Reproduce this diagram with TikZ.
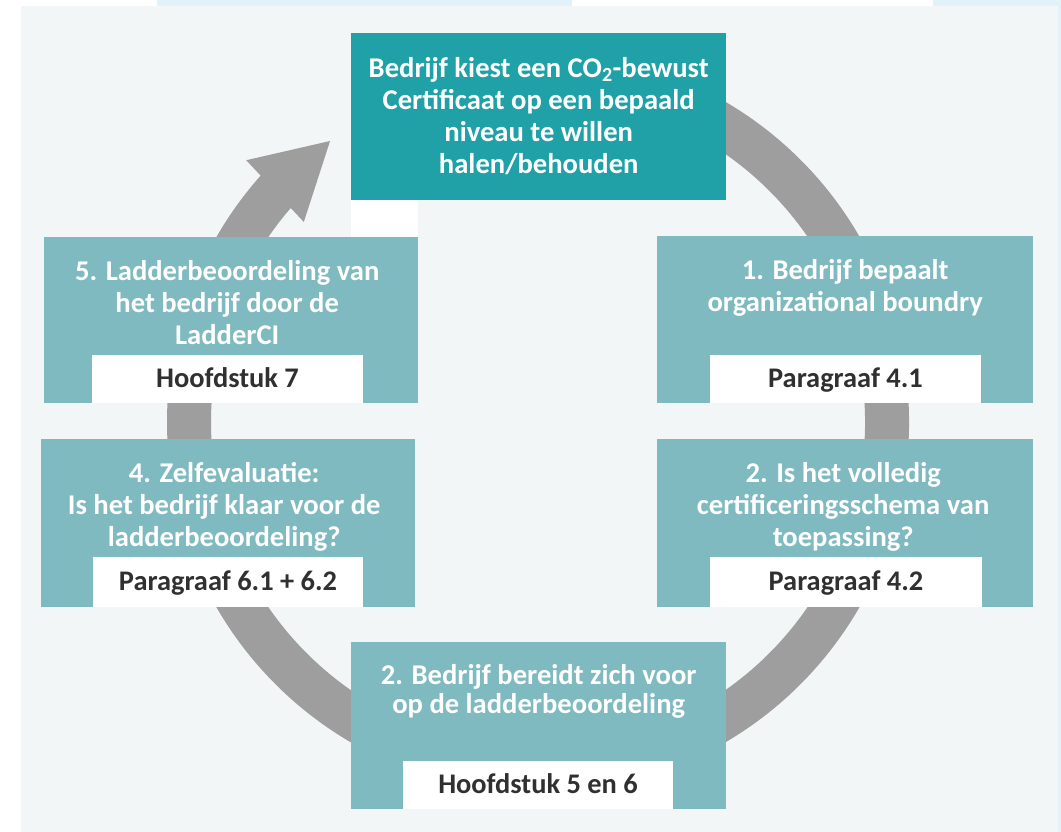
\documentclass[tikz,border=0pt]{standalone}
\usepackage{fontspec}
\setmainfont{Carlito}
\usetikzlibrary{calc}
\definecolor{darkteal}{HTML}{1FA1A7}
\definecolor{lightteal}{HTML}{7EBAC0}
\definecolor{ringgray}{HTML}{9E9E9E}
\definecolor{panelbg}{HTML}{F2F6F7}
\definecolor{stripblue}{HTML}{E1F2FA}
\definecolor{textdark}{HTML}{303030}
\begin{document}
\begin{tikzpicture}[x=1pt,y=1pt,
  boxdark/.style={draw=none, fill=darkteal, inner sep=0pt, anchor=north west,
    minimum width=375pt, minimum height=167pt},
  boxlight/.style={draw=none, fill=lightteal, inner sep=0pt, anchor=north west,
    minimum width=375pt, minimum height=167pt},
  boxtext/.style={text=white, align=center, inner sep=0pt, anchor=north,
    font=\bfseries\fontsize{28.6}{32}\selectfont},
  inbox/.style={draw=none, fill=white, text=textdark, inner sep=0pt,
    minimum height=48pt, text height=17pt, text depth=0pt,
    font=\bfseries\fontsize{28.4}{32}\selectfont},
  ring/.style={draw=ringgray, line width=44pt, line cap=butt}
]
\useasboundingbox (0,0) rectangle (1061,-832);
% background
\fill[white] (0,0) rectangle (1061,-832);
\fill[stripblue] (157,0) rectangle (572,-6);
\fill[stripblue] (933,0) rectangle (1061,-6);
\fill[stripblue] (1058,0) rectangle (1061,-832);
\fill[panelbg] (21,-6) rectangle (1058,-832);

% cycle ring with arrow head
\coordinate (ctr) at (538,-422);
\draw[ring] (ctr) ++(100:349) arc[start angle=100, end angle=-222, radius=349];
\fill[ringgray] ($(ctr)+(138.1:392)$) -- ($(ctr)+(126.5:349.6)$) -- ($(ctr)+(139.5:308)$) -- cycle;

% white patch under top box
\fill[white] (351,-200) rectangle (418,-237);

% boxes
\node[boxdark] (top) at (351,-33) {};
\node[boxlight, minimum width=374pt, minimum height=166pt] (b5) at (44,-237) {};
\node[boxlight, minimum width=376pt, minimum height=167pt] (b1) at (657,-236) {};
\node[boxlight, minimum width=374pt, minimum height=168pt] (b4) at (41,-439) {};
\node[boxlight, minimum width=376pt, minimum height=168pt] (b2) at (657,-439) {};
\node[boxlight, minimum width=375pt, minimum height=167pt] (bb) at (351,-642) {};

% box texts
\node[boxtext, yshift=-20pt] (ttop) at (top.north)
  {\rule{0pt}{24pt}Bedrijf kiest een CO\textsubscript{2}-bewust\\Certificaat op een bepaald\\niveau te willen\\halen/behouden};
\node[boxtext, yshift=-19pt, xshift=-4pt] (t5) at (b5.north)
  {\rule{0pt}{24pt}5. Ladderbeoordeling van\\het bedrijf door de\\LadderCI};
\node[boxtext, yshift=-19pt] (t1) at (b1.north)
  {\rule{0pt}{24pt}1. Bedrijf bepaalt\\organizational boundry};
\node[boxtext, yshift=-19pt, xshift=-4pt] (t4) at (b4.north)
  {\rule{0pt}{24pt}4. Zelfevaluatie:\\Is het bedrijf klaar voor de\\ladderbeoordeling?};
\node[boxtext, yshift=-19pt, xshift=-2pt] (t2) at (b2.north)
  {\rule{0pt}{24pt}2. Is het volledig\\certificeringsschema van\\toepassing?};
\node[boxtext, yshift=-18pt, font=\bfseries\fontsize{28.6}{29.5}\selectfont] (tb) at (bb.north)
  {\rule{0pt}{24pt}2. Bedrijf bereidt zich voor\\op de ladderbeoordeling};

% reference boxes
\node[inbox, minimum width=271pt] (i5) at (227.5,-379) {Hoofdstuk 7};
\node[inbox, minimum width=271pt] (i1) at (845.5,-379) {Paragraaf 4.1};
\node[inbox, minimum width=270pt, minimum height=50pt] (i4) at (228,-582) {Paragraaf 6.1 + 6.2};
\node[inbox, minimum width=272pt, minimum height=50pt] (i2) at (846,-582) {Paragraaf 4.2};
\node[inbox, minimum width=270pt] (ib) at (538,-785) {Hoofdstuk 5 en 6};
\end{tikzpicture}
\end{document}
